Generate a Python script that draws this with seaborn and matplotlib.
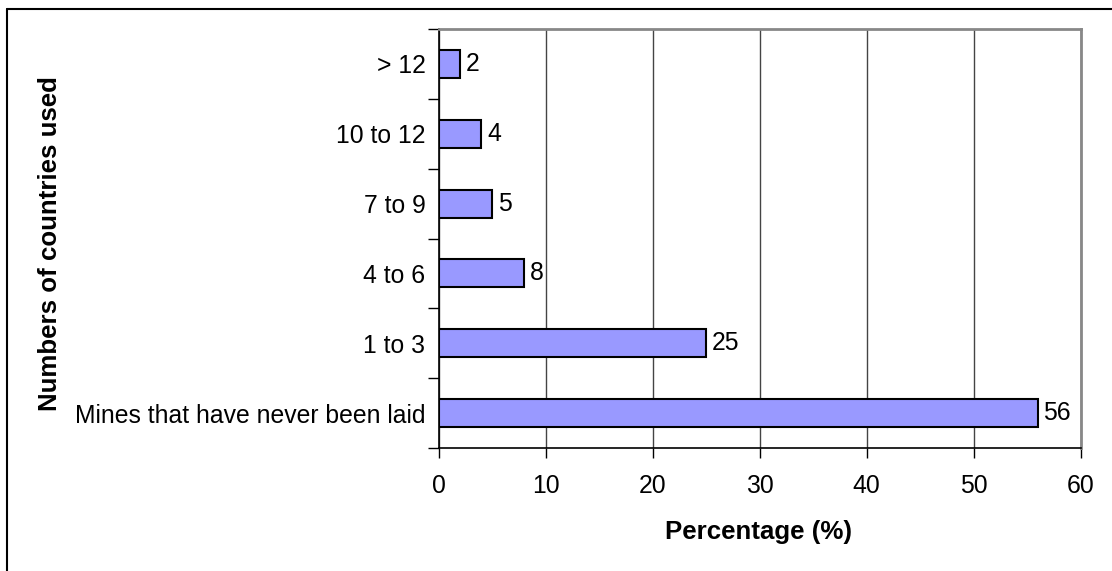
import matplotlib
matplotlib.use("Agg")
import matplotlib.pyplot as plt
from matplotlib.lines import Line2D
import seaborn as sns
import pandas as pd

categories = ["> 12", "10 to 12", "7 to 9", "4 to 6", "1 to 3",
              "Mines that have never been laid"]
percentages = [2, 4, 5, 8, 25, 56]
x_ticks = [0, 10, 20, 30, 40, 50, 60]

sns.set_theme(style="white")
plt.rcParams["font.family"] = ["Liberation Sans", "DejaVu Sans"]
plt.rcParams["text.color"] = "black"
plt.rcParams["xtick.color"] = "black"
plt.rcParams["ytick.color"] = "black"
plt.rcParams["axes.labelcolor"] = "black"

FS = 17.8
FS_TITLE = 18.6

df = pd.DataFrame({"category": categories, "pct": percentages})

fig = plt.figure(figsize=(11.12, 5.71), dpi=100)
ax = fig.add_axes([0.3945, 0.2154, 0.5774, 0.7338])

sns.barplot(data=df, y="category", x="pct", orient="h", order=categories,
            color="#9999FF", saturation=1, width=0.4,
            edgecolor="black", linewidth=1.5, ax=ax, zorder=3)

ax.set_xlim(0, 60)
ax.set_ylim(len(categories) - 0.5, -0.5)
ax.set_xticks(x_ticks)
ax.set_xticklabels([str(t) for t in x_ticks], fontsize=FS)

# category labels sit between the boundary ticks
ax.set_yticks([i + 0.5 for i in range(-1, len(categories))])
ax.set_yticklabels([])
ax.set_yticks(range(len(categories)), minor=True)
ax.set_yticklabels(categories, minor=True, fontsize=FS)
ax.tick_params(axis="y", which="major", direction="out", length=8,
               width=1, color="black", left=True)
ax.tick_params(axis="y", which="minor", length=0, pad=9.5)
ax.tick_params(axis="x", direction="out", length=7, width=1,
               color="black", bottom=True, pad=12)

ax.grid(axis="x", color="#444444", linewidth=1, zorder=0)
ax.grid(axis="y", visible=False)

for side in ["left", "bottom"]:
    ax.spines[side].set_color("black")
    ax.spines[side].set_linewidth(1.2)
for side in ["top", "right"]:
    ax.spines[side].set_visible(True)
    ax.spines[side].set_color("#888888")
    ax.spines[side].set_linewidth(2)

for i, v in enumerate(percentages):
    ax.annotate(str(v), xy=(v, i), xytext=(4, 0), textcoords="offset points",
                va="center", ha="left", fontsize=FS, color="black")

ax.set_xlabel("")
ax.set_ylabel("")
fig.text(0.6825, 1 - 532 / 571, "Percentage (%)", fontsize=FS_TITLE,
         fontweight="bold", ha="center", va="center")
fig.text(0.045, 1 - 244 / 571, "Numbers of countries used", rotation=90,
         fontsize=FS_TITLE, fontweight="bold", ha="center", va="center")

# chart frame along top and left edges
fig.add_artist(Line2D([0.0063, 1.0], [1 - 9 / 571, 1 - 9 / 571],
                      transform=fig.transFigure, color="black", linewidth=1.5))
fig.add_artist(Line2D([0.0063, 0.0063], [0.0, 1 - 9 / 571],
                      transform=fig.transFigure, color="black", linewidth=1.5))

fig.savefig("out.png", dpi=100, facecolor="white")
